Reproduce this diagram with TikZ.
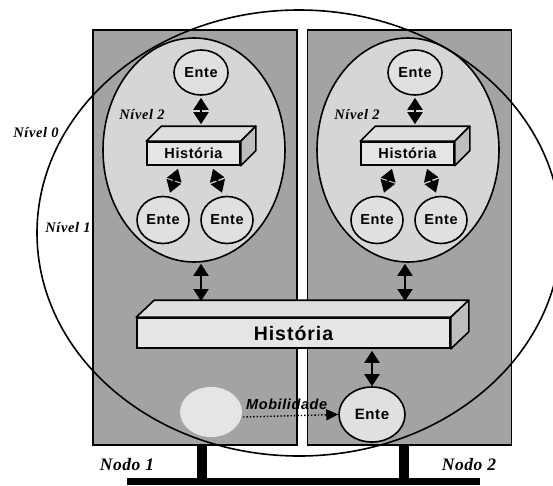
\documentclass[tikz,border=0pt]{standalone}
\usepackage{fontspec}
\usetikzlibrary{arrows.meta,shapes.geometric}
\newfontfamily\sanslbl[LetterSpace=4]{Liberation Sans}
\newfontfamily\sansbig[LetterSpace=5]{Liberation Sans}
\newfontfamily\seriflbl[LetterSpace=4]{Liberation Serif}
\newfontfamily\serifnodo[LetterSpace=3]{Liberation Serif}
\definecolor{panelgray}{gray}{0.64}
\definecolor{zonegray}{gray}{0.84}
\definecolor{boxfront}{gray}{0.90}
\definecolor{boxtop}{gray}{0.87}
\definecolor{boxside}{gray}{0.74}
\definecolor{entefill}{gray}{0.88}
\definecolor{ghostfill}{gray}{0.90}
\tikzset{
  panel/.style={draw, line width=1.4pt, fill=panelgray, minimum width=204, minimum height=415, inner sep=0},
  zone/.style={ellipse, draw, line width=1.6pt, fill=zonegray, minimum width=182, minimum height=224, inner sep=0},
  ente/.style={ellipse, draw, line width=1.6pt, fill=entefill, inner sep=0,
    minimum width=54, minimum height=45, font=\sanslbl\bfseries\fontsize{14.5}{15}\selectfont},
  boxfrontstyle/.style={draw, line width=1.6pt, fill=boxfront, inner sep=0},
  face/.style={draw, line width=1.6pt, line join=round},
  dbl/.style={{Triangle[length=12pt,width=15pt]}-{Triangle[length=12pt,width=15pt]}, line width=2pt},
  lvl/.style={font=\seriflbl\bfseries\itshape\fontsize{14.5}{15}\selectfont, inner sep=0},
  nodolbl/.style={font=\serifnodo\bfseries\itshape\fontsize{17.5}{18}\selectfont, inner sep=0},
}
\begin{document}
\begin{tikzpicture}[x=1pt, y=-1pt]
\useasboundingbox (0,0) rectangle (553,485);
\clip (0,0) rectangle (553,485);

% the two host panels
\node[panel] (p1) at (195,237.5) {};
\node[panel] (p2) at (409.5,237.5) {};

% network cable and the two stems
\coordinate (busL) at (127,481.5);
\coordinate (busR) at (480,481.5);
\coordinate (s1) at (201.5,445);
\coordinate (s2) at (404,445);
\coordinate (s1b) at (201.5,478);
\coordinate (s2b) at (404,478);
\draw[line width=7pt] (busL) -- (busR);
\draw[line width=10pt] (s1) -- (s1b);
\draw[line width=10pt] (s2) -- (s2b);

% level-2 zones
\node[zone] (z1) at (194,150) {};
\node[zone] (z2) at (408,150) {};

% entities inside the left zone
\node[ente] (e1t) at (201,72.5) {Ente};
\node[ente, minimum width=52, minimum height=47] (e1a) at (163,220) {Ente};
\node[ente, minimum width=52, minimum height=47] (e1b) at (227,220) {Ente};
% entities inside the right zone
\node[ente] (e2t) at (415,72.5) {Ente};
\node[ente, minimum width=52, minimum height=47] (e2a) at (377,220) {Ente};
\node[ente, minimum width=52, minimum height=47] (e2b) at (441,220) {Ente};

% local history boxes
\foreach \nm/\cx in {h1/193.5, h2/407.5}{
  \node[boxfrontstyle, minimum width=93, minimum height=23,
        font=\sanslbl\bfseries\fontsize{14.5}{15}\selectfont] (\nm) at (\cx,153.5) {História};
  \draw[face, fill=boxtop] (\nm.north west) -- ([shift={(15,-15)}]\nm.north west)
     -- ([shift={(15,-15)}]\nm.north east) -- (\nm.north east) -- cycle;
  \draw[face, fill=boxside] (\nm.north east) -- ([shift={(15,-15)}]\nm.north east)
     -- ([shift={(15,-15)}]\nm.south east) -- (\nm.south east) -- cycle;
}

% global history box
\node[boxfrontstyle, minimum width=313, minimum height=30,
      font=\sansbig\bfseries\fontsize{19.5}{20}\selectfont] (hg) at (293.5,333) {História};
\draw[face, fill=boxtop] (hg.north west) -- ([shift={(18,-17)}]hg.north west)
   -- ([shift={(18,-17)}]hg.north east) -- (hg.north east) -- cycle;
\draw[face, fill=boxside] (hg.north east) -- ([shift={(18,-17)}]hg.north east)
   -- ([shift={(18,-17)}]hg.south east) -- (hg.south east) -- cycle;

% arrows inside the zones
\draw[dbl] ([yshift=-2]e1t.south) -- ([yshift=2+15]h1.north -| e1t.south);
\draw[dbl] ([yshift=-2]e2t.south) -- ([yshift=2+15]h2.north -| e2t.south);
\draw[dbl] ([shift={(-15.5,3)}]h1.south) -- ([shift={(7,-3)}]e1a.north);
\draw[dbl] ([shift={(19.5,3)}]h1.south) -- ([shift={(-5,-3)}]e1b.north);
\draw[dbl] ([shift={(-15.5,3)}]h2.south) -- ([shift={(7,-3)}]e2a.north);
\draw[dbl] ([shift={(19.5,3)}]h2.south) -- ([shift={(-5,-3)}]e2b.north);

% arrows between the zones and the global history
\coordinate (g1) at (201,301);
\coordinate (g2) at (405,301);
\draw[dbl] ([yshift=-1]z1.south -| g1) -- (g1);
\draw[dbl] ([yshift=-1]z2.south -| g2) -- (g2);

% migrated entity
\node[ellipse, fill=ghostfill, minimum width=62, minimum height=50, inner sep=0] (ghost) at (211,412) {};
\node[ente, minimum width=66, minimum height=55, font=\sanslbl\bfseries\fontsize{15}{15}\selectfont] (em) at (372,414.5) {Ente};
\draw[dbl] ([yshift=-2]hg.south -| em.north) -- (em.north);
\coordinate (mobstart) at (243,417);
\draw[line width=1.4pt, dotted, -{Triangle[length=12pt,width=11pt]}] (mobstart) -- (em.west);
\node[font=\sanslbl\bfseries\itshape\fontsize{14.5}{15}\selectfont, inner sep=0, anchor=south west] (mob) at (246,410) {Mobilidade};

% level-0/level-1 boundary
\draw[line width=1.6pt] (299,233) ellipse (262 and 223);

% labels
\node[lvl] (l0) at (36,133) {Nível 0};
\node[lvl] (l1) at (68,228) {Nível 1};
\node[lvl] (l2a) at (142,115) {Nível 2};
\node[lvl] (l2b) at (357,115) {Nível 2};
\node[nodolbl] (nd1) at (127,465) {Nodo 1};
\node[nodolbl] (nd2) at (469,465) {Nodo 2};
\end{tikzpicture}
\end{document}
